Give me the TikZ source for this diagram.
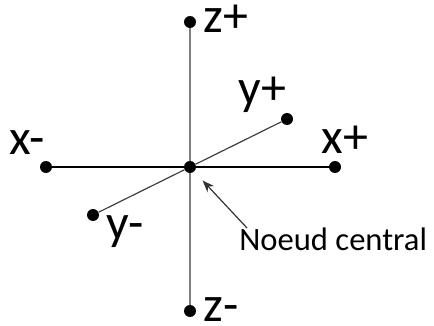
\documentclass[tikz,border=0pt]{standalone}
\usepackage{fontspec}
\setmainfont{Carlito}
\usetikzlibrary{arrows.meta,positioning}

\begin{document}
\begin{tikzpicture}[
  x=0.5pt,y=-0.5pt,
  dot/.style={circle,fill=black,inner sep=0pt,minimum size=6pt},
  axlbl/.style={anchor=base west,inner sep=0pt,font=\fontsize{25}{28}\selectfont},
  note/.style={anchor=base west,inner sep=0pt,font=\fontsize{16.3}{19}\selectfont},
  zaxis/.style={draw=black!50,line width=0.8pt},
  xaxis/.style={draw=black,line width=0.75pt},
  yaxis/.style={draw=black!75,line width=0.6pt},
  pointer/.style={-{Stealth[length=6pt,width=4.5pt]},draw=black!80,line width=0.6pt},
]
  \useasboundingbox (0,0) rectangle (434,326);

  % points
  \node[dot] (c)  at (190,167) {};
  \node[dot] (zp) at (190,22)  {};
  \node[dot] (zm) at (190,311) {};
  \node[dot] (xm) at (46,167)  {};
  \node[dot] (xp) at (335,167) {};
  \node[dot] (yp) at (287,119) {};
  \node[dot] (ym) at (93,215)  {};

  % axes
  \draw[zaxis] (c) -- (zp);
  \draw[zaxis] (c) -- (zm);
  \draw[xaxis] (c) -- (xm);
  \draw[xaxis] (c) -- (xp);
  \draw[yaxis] (c) -- (yp);
  \draw[yaxis] (c) -- (ym);

  % labels
  \node[axlbl] (lzp) at (203,33)  {z+};
  \node[axlbl] (lzm) at (203,321) {z-};
  \node[axlbl] (lxm) at (9,155)   {x-};
  \node[axlbl] (lxp) at (321,154) {x+};
  \node[axlbl] (lyp) at (238,105) {y+};
  \node[axlbl] (lym) at (106,239) {y-};

  \node[note] (lc) at (239,250) {Noeud central};
  \coordinate (tail) at (247,228);
  \draw[pointer,shorten >=6pt] (tail) -- (c);
\end{tikzpicture}
\end{document}
